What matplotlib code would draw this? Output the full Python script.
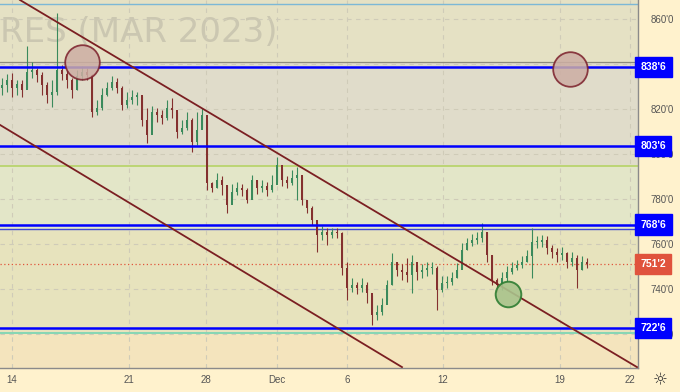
import matplotlib
matplotlib.use("Agg")
import matplotlib.pyplot as plt
from matplotlib.ticker import FuncFormatter

# --- price bars (about 4 bars per trading day, 14 Nov -> 21 Dec) ---
bar_close = [830.7, 832.9, 829.3, 831.1, 828.4, 836.4, 837.3, 835.1, 830.7, 826.2,
             827.6, 837.3, 835.5, 832.9, 828.4, 834.7, 836.4, 835.1, 818.7, 820.4,
             826.2, 829.3, 832.0, 829.3, 821.8, 824.0, 825.3, 826.2, 815.1, 808.4,
             818.7, 817.3, 816.0, 820.4, 819.5, 809.8, 811.6, 815.1, 805.3, 810.7,
             817.3, 787.1, 784.9, 788.4, 786.2, 777.3, 783.1, 784.9, 784.0, 779.6,
             788.4, 784.9, 785.8, 784.0, 786.2, 795.1, 788.4, 787.1, 789.3, 790.7,
             779.6, 776.0, 770.7, 764.0, 765.3, 764.0, 765.3, 764.9, 749.3, 740.4,
             741.8, 740.4, 741.8, 738.2, 728.4, 729.8, 732.9, 741.8, 752.0, 748.4,
             747.6, 746.2, 752.0, 747.6, 748.4, 749.3, 749.3, 739.6, 742.7, 743.1,
             744.9, 748.4, 757.3, 760.4, 761.8, 762.7, 765.3, 755.1, 744.0, 741.8,
             744.9, 747.6, 749.3, 750.7, 752.0, 754.6, 760.9, 760.9, 761.8, 758.2,
             756.4, 755.1, 756.0, 752.0, 753.8, 748.4, 752.0, 751.2]
bar_high = [833.8, 835.5, 836.0, 832.9, 832.9, 848.0, 840.9, 838.2, 836.4, 832.0,
            832.9, 862.7, 839.6, 837.3, 833.8, 837.3, 839.1, 838.2, 835.5, 824.0,
            829.3, 832.0, 834.7, 833.8, 830.2, 827.6, 828.4, 827.6, 825.8, 820.4,
            821.3, 820.4, 819.5, 824.0, 824.9, 818.7, 815.1, 818.7, 816.0, 818.7,
            820.4, 815.1, 787.6, 791.6, 790.2, 786.2, 786.7, 787.6, 786.7, 784.9,
            790.7, 788.4, 788.4, 787.6, 790.7, 798.7, 793.8, 790.2, 792.9, 794.2,
            790.2, 779.6, 776.9, 769.8, 768.0, 767.1, 767.1, 767.1, 765.3, 752.0,
            744.9, 743.1, 744.9, 743.1, 737.3, 732.9, 736.0, 744.0, 756.0, 752.0,
            751.1, 753.8, 755.1, 750.7, 751.1, 752.0, 752.0, 750.2, 745.8, 745.8,
            747.6, 751.6, 760.4, 762.7, 764.4, 765.3, 769.3, 765.3, 755.1, 744.9,
            747.6, 750.2, 752.0, 752.9, 754.6, 757.3, 767.1, 763.6, 764.0, 763.6,
            759.6, 758.2, 758.7, 756.4, 756.4, 755.1, 754.6, 753.8]
bar_low = [826.2, 827.6, 825.3, 826.2, 825.3, 829.3, 833.8, 832.0, 826.2, 822.7,
           820.9, 826.2, 832.9, 829.3, 824.9, 828.4, 832.9, 832.9, 816.4, 817.3,
           819.5, 825.8, 828.4, 827.1, 819.5, 820.4, 822.2, 821.8, 812.4, 804.9,
           814.2, 814.2, 813.3, 815.1, 816.0, 807.1, 808.9, 810.7, 800.9, 804.0,
           811.6, 784.0, 783.1, 784.9, 781.8, 773.8, 780.4, 781.8, 781.3, 778.2,
           780.4, 782.2, 783.1, 781.3, 783.1, 787.6, 785.8, 784.9, 786.2, 779.6,
           777.3, 773.8, 768.4, 756.4, 761.8, 759.6, 762.7, 762.7, 746.2, 735.1,
           738.7, 737.8, 738.7, 733.8, 724.0, 726.2, 728.4, 735.1, 741.8, 745.8,
           744.0, 743.1, 738.2, 744.0, 744.9, 745.8, 746.7, 730.7, 738.7, 740.4,
           741.8, 744.9, 749.3, 757.3, 759.1, 760.0, 760.9, 752.0, 741.8, 738.7,
           739.6, 743.1, 746.7, 748.4, 749.3, 752.0, 744.9, 758.2, 758.7, 755.5,
           753.8, 752.0, 752.9, 749.3, 750.2, 740.4, 748.4, 749.3]
first_open = 829.5

# --- levels ---
key_levels = [838.6, 803.6, 768.6, 722.6]
key_labels = ["838'6", "803'6", "768'6", "722'6"]
last_price = 751.2
last_label = "751'2"
zone_edges = [868.5, 840.9, 794.7, 766.5, 720.4, 704.9]
zone_colors = ["#e5e1c4", "#e0dcca", "#e3e6c8", "#e7e3bd", "#f4e4bd"]

# trend channel (bar index, price)
upper_x = [3.6, 127.0]
upper_y = [868.4, 705.3]
lower_x = [-0.4, 80.0]
lower_y = [812.9, 705.3]

# circles (bar index, price)
red_circles_x = [16.0, 113.6]
red_circles_y = [840.9, 837.8]
green_circle_x = [101.2]
green_circle_y = [737.8]

# axis ticks
x_tick_pos = [2, 25.4, 40.8, 55, 69, 88.2, 111.6, 125.6]
x_tick_lab = ['14', '21', '28', 'Dec', '6', '12', '19', '22']
y_ticks = [720, 740, 760, 780, 800, 820, 840, 860]

BG = "#fff2cd"
fig = plt.figure(figsize=(6.8, 3.92), dpi=100, facecolor=BG)
ax = fig.add_axes([0, 24/392, 638/680, 368/392])
ax.set_xlim(-0.4, 127.2)
ax.set_ylim(704.9, 868.4)

# background zones
for i, c in enumerate(zone_colors):
    ax.axhspan(zone_edges[i+1], zone_edges[i], color=c, zorder=0, lw=0)

# grid
ax.set_xticks(x_tick_pos)
ax.set_xticklabels(x_tick_lab)
ax.set_yticks(y_ticks)
ax.grid(True, color="#cfcbb8", linestyle=(0, (4, 4)), lw=0.8, zorder=1)

# watermark
ax.text(0.0, 0.912, "RES (MAR 2023)", transform=ax.transAxes, fontsize=24.5,
        color="#cbc7b1", ha='left', va='center', zorder=1)

# thin horizontal lines
ax.axhline(866.7, color="#7cb8d6", lw=1.0, zorder=2)
ax.axhline(840.9, color="#8c8a7c", lw=0.9, zorder=2)
ax.axhline(794.7, color="#b9d46e", lw=1.3, zorder=2)
ax.axhline(766.5, color="#3d46d6", lw=1.0, zorder=2)
ax.axhline(720.4, color="#86d6b4", lw=1.4, zorder=2)
ax.axhline(last_price, color="#e0553c", lw=0.9, linestyle=(0, (1, 2)), zorder=2)

# candles
opens = [first_open] + bar_close[:-1]
for i in range(len(bar_close)):
    o, c = opens[i], bar_close[i]
    col = "#3a8a5c" if c >= o else "#84302f"
    ax.vlines(i, bar_low[i], bar_high[i], color=col, lw=0.8, zorder=3)
    ax.bar(i, max(abs(c - o), 0.3), bottom=min(o, c), width=0.4,
           color=col, lw=0, zorder=3)

# key levels
for lv in key_levels:
    ax.axhline(lv, color="#0000ff", lw=1.8, zorder=4)

# channel
ax.plot(upper_x, upper_y, color="#7b1f22", lw=1.3, zorder=5)
ax.plot(lower_x, lower_y, color="#7b1f22", lw=1.3, zorder=5)

# circles
ax.scatter(red_circles_x, red_circles_y, s=620, facecolor="#cdae a4".replace(" ", ""),
           edgecolor="#7b1f2a", lw=1.3, alpha=0.85, zorder=6)
ax.scatter(green_circle_x, green_circle_y, s=340, facecolor="#a9c38c",
           edgecolor="#2e7d32", lw=1.4, alpha=0.9, zorder=6)

# axes styling
ax.yaxis.tick_right()
ax.yaxis.set_major_formatter(FuncFormatter(lambda v, p: f"{int(v)}'0"))
ax.tick_params(axis='both', length=0, labelsize=7, colors="#555555",
               labelfontfamily="Liberation Sans")
ax.tick_params(axis='y', pad=9)
ax.tick_params(axis='x', pad=5)
for s in ['top', 'left']:
    ax.spines[s].set_visible(False)
for s in ['bottom', 'right']:
    ax.spines[s].set_color("#8a8a8a")
    ax.spines[s].set_linewidth(1.0)

# price labels on the right
for lv, lab in zip(key_levels, key_labels):
    ax.text(1.004, lv, lab, transform=ax.get_yaxis_transform(), ha='left',
            va='center', fontsize=7.5, color='white', fontweight='bold',
            family="Liberation Sans", clip_on=False, zorder=10,
            bbox=dict(boxstyle='square,pad=0.5', fc="#0000ff", ec="#0000ff"))
ax.text(1.004, last_price, last_label, transform=ax.get_yaxis_transform(),
        ha='left', va='center', fontsize=7.5, color='white', fontweight='bold',
        family="Liberation Sans", clip_on=False, zorder=10,
        bbox=dict(boxstyle='square,pad=0.5', fc="#e0533d", ec="#e0533d"))

# settings icon
fig.text(660/680, 12/392, "\u263c", fontsize=12, color="#333333",
         ha='center', va='center', family="DejaVu Sans")

fig.savefig("out.png", dpi=100, facecolor=BG)
